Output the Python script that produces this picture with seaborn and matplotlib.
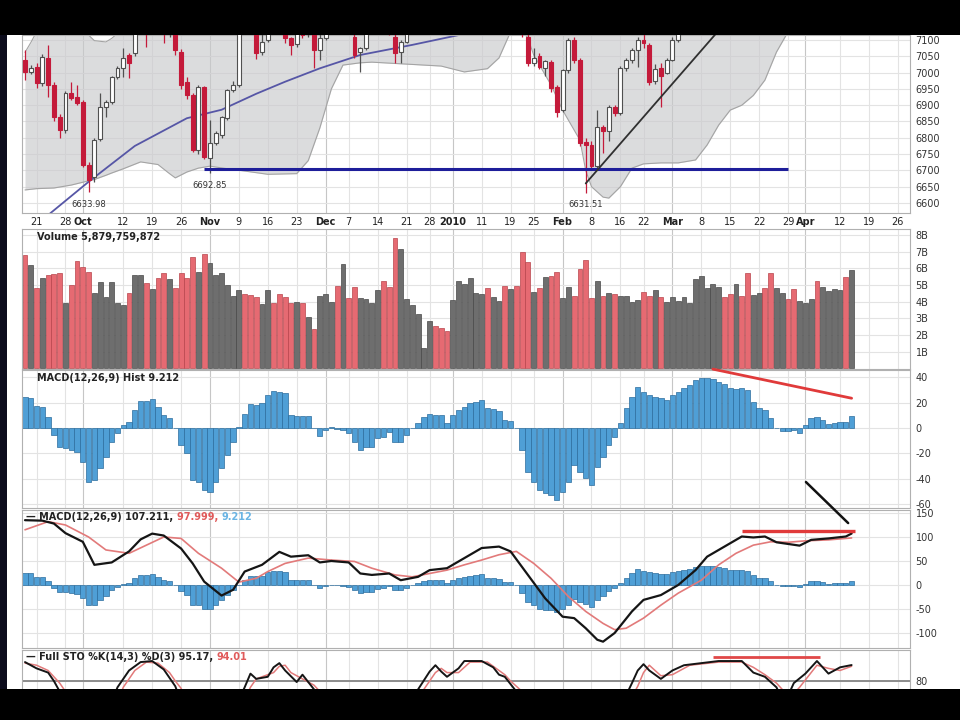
import numpy as np
import pandas as pd
import matplotlib
matplotlib.use("Agg")
import matplotlib.pyplot as plt
import seaborn as sns
from matplotlib.patches import Rectangle, ConnectionPatch

sns.set_theme(style="white")
plt.rcParams["font.family"] = ["DejaVu Sans"]

# ---------------- data ----------------
start_date = "2009-09-17"
holidays = ["2009-11-26", "2009-12-25", "2010-01-01", "2010-01-18", "2010-02-15", "2010-04-02"]

# R = close below prior close (red), G = close above prior close (black/gray)
down_days = ("RGRGRRRGRR" "RRGGGGGGRG" "GRGRRGRRRR" "GRGGGGGGRR" "RGGRRRRGRG"
             "RGGGRGRRGG" "GGRRRGGGGG" "GRRRGGGGGG" "RGGRGRRRGR" "GRRGGRRRRG"
             "RGRGGGGRRG" "RGGGGGGGGG" "GRRGRRGGRR" "GGRRGGGRGG" "GGRG")

opens = [7038, 7003, 7018, 6967, 7044, 6962, 6865, 6824, 6936, 6926,
         6910, 6717, 6680, 6795, 6895, 6910, 6987, 7013, 7054, 7060,
         7150, 7190, 7170, 7200, 7160, 7130, 7135, 7064, 6972, 6931,
         6763, 6955, 6737, 6783, 6808, 6860, 6947, 6962, 7165, 7135,
         7120, 7064, 7100, 7155, 7140, 7130, 7105, 7088, 7125, 7118,
         7120, 7070, 7105, 7135, 7150, 7130, 7165, 7110, 7064, 7074,
         7125, 7140, 7160, 7140, 7110, 7064, 7095, 7125, 7145, 7155,
         7160, 7170, 7155, 7150, 7150, 7195, 7210, 7220, 7235, 7245,
         7260, 7230, 7255, 7275, 7210, 7245, 7180, 7110, 7030, 7050,
         7015, 7034, 6957, 6885, 7008, 7100, 7039, 6788, 6778, 6712,
         6834, 6820, 6895, 6875, 7013, 7040, 7070, 7100, 7085, 6975,
         7015, 7000, 7040, 7100, 7130, 7145, 7160, 7180, 7195, 7210,
         7225, 7240, 7228, 7215, 7240, 7225, 7210, 7230, 7250, 7240,
         7225, 7250, 7270, 7258, 7248, 7270, 7290, 7310, 7300, 7320,
         7335, 7350, 7365, 7350]
highs = [7070, 7022, 7030, 7056, 7085, 6970, 6872, 6945, 6972, 6962,
         6915, 6725, 6800, 6936, 6915, 6990, 7020, 7074, 7060, 7165,
         7200, 7200, 7210, 7205, 7170, 7150, 7145, 7072, 6985, 6938,
         6962, 6960, 6855, 6822, 6868, 6950, 6975, 7150, 7175, 7150,
         7128, 7120, 7160, 7165, 7150, 7135, 7110, 7130, 7135, 7150,
         7130, 7120, 7140, 7160, 7155, 7170, 7170, 7118, 7080, 7135,
         7150, 7165, 7165, 7145, 7118, 7100, 7135, 7150, 7160, 7165,
         7175, 7172, 7160, 7155, 7200, 7215, 7225, 7240, 7250, 7265,
         7262, 7260, 7280, 7280, 7250, 7250, 7190, 7130, 7075, 7060,
         7040, 7040, 6962, 7010, 7105, 7110, 7045, 6800, 6790, 6885,
         6840, 6900, 6900, 7020, 7045, 7075, 7110, 7120, 7090, 7025,
         7030, 7045, 7110, 7135, 7150, 7165, 7185, 7200, 7215, 7230,
         7245, 7245, 7232, 7245, 7245, 7230, 7235, 7255, 7255, 7245,
         7255, 7275, 7275, 7262, 7275, 7295, 7315, 7315, 7325, 7340,
         7355, 7370, 7370, 7385]
lows = [6978, 6995, 6952, 6960, 6925, 6850, 6798, 6815, 6915, 6900,
        6710, 6634, 6665, 6790, 6865, 6905, 6980, 6988, 6982, 7050,
        7140, 7080, 7150, 7130, 7090, 7110, 7055, 6950, 6920, 6755,
        6750, 6735, 6693, 6778, 6800, 6855, 6940, 6955, 7130, 7120,
        7043, 7054, 7095, 7130, 7125, 7090, 7054, 7080, 7105, 7110,
        7013, 7040, 7100, 7125, 7120, 7125, 7125, 7045, 7003, 7070,
        7120, 7135, 7125, 7115, 7028, 7028, 7090, 7120, 7135, 7150,
        7155, 7150, 7140, 7130, 7145, 7185, 7200, 7210, 7225, 7235,
        7220, 7225, 7250, 7200, 7200, 7170, 7110, 7020, 7020, 7010,
        6990, 6940, 6865, 6880, 7000, 7030, 6775, 6632, 6700, 6705,
        6752, 6790, 6868, 6870, 7005, 7030, 7018, 7075, 6962, 6965,
        6895, 6995, 7035, 7095, 7126, 7140, 7155, 7175, 7190, 7205,
        7220, 7220, 7205, 7210, 7215, 7200, 7205, 7225, 7230, 7215,
        7220, 7245, 7250, 7240, 7245, 7265, 7285, 7290, 7295, 7315,
        7330, 7345, 7340, 7345]
closes = [7003, 7015, 6967, 7049, 6962, 6865, 6824, 6936, 6921, 6906,
          6717, 6670, 6793, 6895, 6910, 6987, 7013, 7044, 7030, 7150,
          7190, 7170, 7200, 7160, 7130, 7140, 7068, 6962, 6931, 6763,
          6955, 6740, 6783, 6814, 6865, 6947, 6962, 7140, 7135, 7125,
          7059, 7095, 7150, 7140, 7132, 7105, 7085, 7125, 7115, 7140,
          7069, 7105, 7135, 7150, 7130, 7165, 7135, 7054, 7074, 7125,
          7140, 7160, 7140, 7125, 7059, 7095, 7125, 7145, 7155, 7160,
          7170, 7155, 7150, 7135, 7195, 7210, 7220, 7235, 7245, 7260,
          7230, 7255, 7275, 7210, 7245, 7180, 7120, 7028, 7045, 7018,
          7035, 6952, 6880, 7008, 7100, 7039, 6783, 6778, 6712, 6834,
          6820, 6895, 6875, 7013, 7040, 7070, 7100, 7090, 6970, 7010,
          6990, 7040, 7100, 7128, 7145, 7160, 7180, 7195, 7210, 7225,
          7240, 7228, 7215, 7240, 7225, 7210, 7230, 7250, 7240, 7225,
          7250, 7270, 7258, 7248, 7270, 7290, 7310, 7300, 7320, 7335,
          7350, 7365, 7350, 7380]

volume_b = [6.8, 6.2, 4.8, 5.45, 5.6, 5.65, 5.7, 3.9, 5.0, 6.45,
            6.1, 5.8, 4.5, 5.2, 4.3, 5.2, 3.9, 3.8, 4.55, 5.6,
            5.6, 5.1, 4.75, 5.45, 5.75, 5.35, 4.85, 5.7, 5.45, 6.7,
            5.8, 6.85, 6.35, 5.6, 5.75, 5.0, 4.35, 4.7, 4.45, 4.4,
            4.3, 3.84, 4.7, 3.9, 4.45, 4.3, 3.9, 3.96, 3.9, 3.1,
            2.36, 4.36, 4.46, 4.0, 4.95, 6.25, 4.24, 4.9, 4.24, 4.16,
            3.9, 4.7, 5.24, 4.9, 7.85, 7.15, 4.16, 3.8, 3.24, 1.2,
            2.84, 2.56, 2.4, 2.24, 4.1, 5.26, 5.04, 5.4, 4.5, 4.44,
            4.8, 4.3, 4.04, 4.96, 4.76, 4.96, 6.99, 6.4, 4.56, 4.8,
            5.46, 5.56, 5.8, 4.24, 4.9, 4.36, 5.96, 6.53, 4.24, 5.26,
            4.36, 4.54, 4.46, 4.36, 4.36, 4.0, 4.1, 4.6, 4.36, 4.7,
            4.3, 4.0, 4.3, 4.04, 4.3, 3.9, 5.36, 5.56, 4.8, 5.04,
            4.9, 4.3, 4.46, 5.04, 4.36, 5.74, 4.4, 4.54, 4.8, 5.74,
            4.8, 4.5, 4.16, 4.76, 4.04, 3.9, 4.16, 5.26, 4.9, 4.64,
            4.76, 4.7, 5.5, 5.88]

macd_hist = [24.8, 24.0, 17.7, 16.9, 9.0, -5.5, -14.8, -15.5, -17.4, -19.2,
             -26.6, -42.4, -41.0, -31.9, -22.7, -10.8, -4.2, 2.4, 5.0, 14.2,
             21.3, 21.3, 22.7, 16.9, 10.3, 7.6, 0.3, -13.4, -20.0, -41.0,
             -42.4, -49.0, -50.3, -42.4, -31.9, -21.3, -10.8, 0.5, 10.8, 18.7,
             18.2, 19.5, 26.1, 29.2, 28.7, 27.4, 10.3, 9.7, 9.7, 9.7,
             0.3, -6.0, -1.6, 1.0, -1.0, -1.6, -4.2, -10.8, -17.4, -14.8,
             -14.8, -8.2, -6.9, -2.9, -10.8, -10.8, -5.5, 0.3, 3.7, 9.0,
             10.8, 10.3, 10.3, 3.7, 10.3, 14.2, 16.9, 19.5, 20.8, 22.1,
             15.5, 14.8, 13.4, 6.3, 5.5, -0.3, -17.4, -34.5, -42.4, -49.0,
             -51.6, -53.0, -56.9, -50.3, -42.4, -29.2, -34.5, -39.8, -45.0, -30.6,
             -22.7, -13.4, -6.9, 3.7, 15.5, 24.8, 32.7, 28.7, 26.1, 24.8,
             23.4, 22.1, 26.1, 28.7, 31.4, 34.0, 38.0, 39.8, 39.3, 38.7,
             36.6, 34.5, 31.4, 30.8, 31.9, 30.0, 20.8, 15.5, 14.2, 7.6,
             0.3, -2.1, -2.1, -1.6, -4.2, 2.4, 7.6, 9.0, 6.3, 2.9,
             3.7, 5.0, 5.0, 9.212]

macd_days = [0, 3, 5, 7, 10, 12, 15, 18, 20, 22, 24, 27, 29, 31, 34, 36, 38, 41, 44, 46,
             49, 51, 53, 56, 58, 60, 63, 65, 68, 70, 73, 76, 79, 82, 84, 87, 90, 93, 95, 97,
             99, 100, 102, 105, 107, 110, 113, 116, 118, 121, 124, 126, 128, 130, 134, 136,
             139, 142, 143]
macd_vals = [135, 134, 128, 108, 90, 42, 47, 70, 95, 107, 103, 76, 45, 7, -22, -10, 28, 42, 69, 59,
             62, 47, 50, 47, 24, 21, 24, 10, 17, 31, 35, 56, 77, 80, 70, 21, -28, -66, -69, -90,
             -114, -118, -100, -55, -31, -21, 0, 31, 59, 80, 101, 99, 101, 89, 82, 94,
             97, 101, 107.211]
signal_days = [0, 4, 7, 11, 14, 18, 21, 24, 27, 30, 34, 37, 40, 42, 45, 49, 53, 57, 60, 64,
               67, 70, 73, 76, 79, 82, 85, 88, 91, 94, 97, 100, 102, 104, 107, 110, 113, 117,
               120, 123, 126, 129, 132, 135, 139, 143]
signal_vals = [115, 132, 125, 100, 73, 66, 83, 100, 97, 66, 35, 6, 14, 28, 45, 56, 52, 49, 35, 21,
               17, 24, 31, 42, 52, 63, 70, 45, 14, -24, -55, -80, -93, -90, -69, -42, -17, 10,
               42, 66, 83, 90, 89, 92, 94, 97.999]

stoK_days = [0, 2, 4, 5, 6, 9, 12, 15, 16, 18, 20, 22, 24, 25, 26, 29, 33, 36, 38, 39,
             40, 42, 43, 44, 45, 47, 48, 50, 53, 57, 61, 65, 68, 70, 71, 72, 73, 75, 76, 79,
             81, 82, 83, 85, 88, 92, 96, 100, 103, 105, 106, 107, 108, 110, 112, 114, 117, 120,
             124, 126, 128, 130, 131, 132, 133, 135, 137, 139, 141, 143]
stoK_vals = [98, 92, 88, 80, 70, 35, 18, 60, 74, 90, 98, 99, 91, 83, 75, 30, 10, 50, 74, 87,
             82, 84, 93, 97, 90, 79, 86, 72, 45, 40, 30, 45, 72, 89, 95, 89, 84, 92, 99, 99,
             93, 86, 84, 70, 20, 5, 2, 30, 55, 78, 90, 96, 90, 82, 90, 95, 97, 99,
             99, 88, 84, 74, 62, 66, 78, 87, 99, 87, 93, 95.17]
stoD_days = [0, 2, 4, 6, 7, 10, 13, 16, 17, 19, 21, 23, 25, 26, 27, 30, 34, 37, 39, 40,
             41, 43, 44, 45, 46, 48, 49, 50, 51, 54, 58, 62, 66, 69, 71, 72, 73, 75, 77, 80,
             82, 83, 84, 86, 89, 93, 97, 101, 104, 106, 107, 108, 110, 112, 115, 120, 124, 126,
             128, 130, 131, 132, 134, 137, 139, 141, 143]
stoD_vals = [97, 95, 90, 78, 70, 40, 25, 60, 74, 90, 98, 97, 88, 80, 73, 35, 18, 50, 74, 82,
             84, 88, 94, 95, 88, 82, 79, 76, 70, 48, 40, 35, 45, 72, 88, 92, 88, 88, 98, 98,
             90, 86, 80, 70, 25, 8, 4, 30, 55, 75, 88, 95, 85, 86, 95, 98, 98, 93,
             86, 78, 72, 62, 74, 95, 92, 90, 94.01]

ma_days = [0, 4, 11, 19, 28, 34, 40, 45, 51, 58, 67, 75, 85]
ma_vals = [6500, 6563, 6665, 6775, 6860, 6886, 6935, 6972, 7013, 7054, 7085, 7115, 7150]

band_days = [0, 1, 2, 5, 8, 11, 12, 14, 15, 17, 20, 23, 25, 26, 28, 30, 32, 35, 38, 42,
             47, 49, 51, 53, 55, 58, 60, 66, 72, 76, 80, 82, 84, 86, 87, 88, 91, 93, 96, 97,
             98, 100, 101, 103, 105, 107, 110, 113, 116, 118, 120, 122, 124, 126, 128, 130,
             132, 136, 143]
band_lower = [6640, 6642, 6644, 6646, 6655, 6668, 6672, 6685, 6692, 6705, 6726, 6718, 6690, 6677,
              6695, 6707, 6713, 6705, 6698, 6688, 6690, 6730, 6830, 6950, 7023, 7030, 7032,
              7026, 7020, 7002, 7012, 7045, 7125, 7130, 7105, 7054, 6962, 6885, 6793, 6700,
              6650, 6618, 6615, 6650, 6707, 6720, 6723, 6723, 6732, 6778, 6839, 6885, 6900,
              6930, 6977, 7063, 7125, 7180, 7250]
band_upper = [7062, 7092, 7125, 7170, 7160, 7115, 7098, 7094, 7105, 7135, 7300, 7300, 7300, 7300,
              7300, 7300, 7300, 7300, 7300, 7300, 7300, 7300, 7300, 7300, 7300, 7300, 7300,
              7300, 7300, 7300, 7300, 7300, 7300, 7300, 7300, 7300, 7300, 7300, 7300, 7300,
              7300, 7300, 7300, 7300, 7300, 7300, 7300, 7300, 7300, 7300, 7300, 7300, 7300,
              7300, 7300, 7300, 7300, 7400, 7450]

low_days = [11, 32, 97]
low_labels = ["6633.98", "6692.85", "6631.51"]
support_level = 6705

tick_dates = ["2009-09-21", "2009-09-28", "2009-10-01", "2009-10-12", "2009-10-19", "2009-10-26",
              "2009-11-02", "2009-11-09", "2009-11-16", "2009-11-23", "2009-12-01", "2009-12-07",
              "2009-12-14", "2009-12-21", "2009-12-28", "2010-01-04", "2010-01-11", "2010-01-19",
              "2010-01-25", "2010-02-01", "2010-02-08", "2010-02-16", "2010-02-22", "2010-03-01",
              "2010-03-08", "2010-03-15", "2010-03-22", "2010-03-29", "2010-04-01", "2010-04-12",
              "2010-04-19", "2010-04-26"]
tick_labels = ["21", "28", "Oct", "12", "19", "26", "Nov", "9", "16", "23", "Dec", "7",
               "14", "21", "28", "2010", "11", "19", "25", "Feb", "8", "16", "22", "Mar",
               "8", "15", "22", "29", "Apr", "12", "19", "26"]

# ---------------- calendar ----------------
cal = pd.bdate_range(start_date, "2010-05-14")
cal = cal[~cal.isin(pd.to_datetime(holidays))]
tick_pos = [cal.get_loc(pd.Timestamp(d)) for d in tick_dates]
n = len(closes)
idx = np.arange(n)
opens_a, highs_a, lows_a, closes_a = map(np.array, (opens, highs, lows, closes))
down = np.array([c == "R" for c in down_days])

# ---------------- figure ----------------
W, H = 960, 720
L, R = 22, 910
fig = plt.figure(figsize=(9.6, 7.2), dpi=100)
fig.patch.set_facecolor("white")

GRID = "#e3e3e3"
MGRID = "#c6c6c6"


def panel(top, bottom, ylim, yticks, ylabels):
    ax = fig.add_axes([L / W, 1 - bottom / H, (R - L) / W, (bottom - top) / H])
    ax.set_facecolor("white")
    ax.set_xlim(-0.52, 153.1)
    ax.set_ylim(*ylim)
    for s in ax.spines.values():
        s.set_color("#b0b0b0")
        s.set_linewidth(0.8)
    ax.grid(False)
    ax.yaxis.tick_right()
    ax.set_yticks(yticks)
    ax.set_yticklabels(ylabels)
    ax.tick_params(axis="y", length=0, labelsize=7, labelcolor="#333333", pad=4)
    ax.set_xticks(tick_pos)
    ax.tick_params(axis="x", length=0, labelbottom=False)
    for p, lab in zip(tick_pos, tick_labels):
        month = (not lab.isdigit()) or lab == "2010"
        ax.axvline(p, color=MGRID if month else GRID, lw=0.8, zorder=0.5)
    for v in yticks:
        ax.axhline(v, color=GRID, lw=0.8, zorder=0.5)
    ax.set_xlabel("")
    ax.set_ylabel("")
    return ax


def chain(ax, x, y, parts, size=7):
    t = ax.text(x, y, parts[0][0], color=parts[0][1], transform=ax.transAxes,
                fontsize=size, fontweight="bold", va="center", ha="left", zorder=10)
    for s, c in parts[1:]:
        t = ax.annotate(s, xy=(1, 0.5), xycoords=t, va="center", ha="left",
                        color=c, fontsize=size, fontweight="bold", zorder=10)


# ---- price panel ----
yt = np.arange(6600, 7101, 50)
axp = panel(35, 213, (6569.3, 7115.3), yt, [str(v) for v in yt])
axp.fill_between(band_days, band_lower, band_upper, color="#c9cacc", alpha=0.65, lw=0, zorder=1)
axp.plot(band_days, band_lower, color="#a4a4a4", lw=0.8, zorder=1.2)
axp.plot(band_days, band_upper, color="#a4a4a4", lw=0.8, zorder=1.2)
sns.lineplot(x=ma_days, y=ma_vals, ax=axp, color="#5656a6", linewidth=1.3, legend=False, zorder=2)

edge = np.where(down, "#c41a3a", "#505050")
face = np.where(closes_a < opens_a, edge, "white")
axp.vlines(idx, lows_a, highs_a, colors=edge, lw=0.9, zorder=3)
body = np.maximum(np.abs(closes_a - opens_a), 2)
axp.bar(idx, body, bottom=np.minimum(opens_a, closes_a), width=0.68, color=face,
        edgecolor=edge, linewidth=0.8, zorder=4)

for d, lab in zip(low_days, low_labels):
    axp.text(d, lows_a[d] - 38, lab, ha="center", va="center", fontsize=6,
             color="#333333", zorder=6)

axp.hlines(support_level, 31, 132, color="#1e1e9a", lw=2.2, zorder=5)
axp.plot([97, 125], [6660, 7231], color="#303030", lw=1.3, zorder=5)

axp.set_xticklabels(tick_labels)
axp.tick_params(axis="x", labelbottom=True, labelsize=7, pad=3, labelcolor="#222222")
for lbl in axp.get_xticklabels():
    t = lbl.get_text()
    if (not t.isdigit()) or t == "2010":
        lbl.set_fontweight("bold")

# ---- volume panel ----
vt = np.arange(1, 9)
axv = panel(229, 369, (-0.03, 8.36), vt, [f"{v}B" for v in vt])
vface = np.where(down, "#e66a72", "#6e6e6e")
vedge = np.where(down, "#b8444c", "#484848")
axv.bar(idx, volume_b, width=0.84, color=vface, edgecolor=vedge, linewidth=0.5, zorder=2)
chain(axv, 0.017, 0.943, [("Volume 5,879,759,872", "#222222")])

# ---- MACD histogram panel ----
ht = np.arange(-60, 41, 20)
axh = panel(370, 508, (-63.2, 45.8), ht, [str(v) for v in ht])
axh.bar(idx, macd_hist, width=0.92, color="#4f9fd6", edgecolor="#2c6d9d", linewidth=0.5, zorder=2)
chain(axh, 0.017, 0.942, [("MACD(12,26,9) Hist 9.212", "#222222")])
axh.plot([119, 143], [46.5, 23.5], color="#e03a3a", lw=2, clip_on=False, zorder=8)

# ---- MACD panel ----
mt = np.arange(-100, 151, 50)
axm = panel(510, 648, (-131.2, 156.2), mt, [str(v) for v in mt])
axm.bar(idx, macd_hist, width=0.92, color="#4f9fd6", edgecolor="#2c6d9d", linewidth=0.5, zorder=2)
sns.lineplot(x=signal_days, y=signal_vals, ax=axm, color="#e27a7a", linewidth=1.2, legend=False, zorder=3)
sns.lineplot(x=macd_days, y=macd_vals, ax=axm, color="#151515", linewidth=1.6, legend=False, zorder=4)
axm.hlines(112, 124, 143.5, color="#e03a3a", lw=2.4, zorder=6)
chain(axm, 0.005, 0.949, [("\u2014 MACD(12,26,9) 107.211, ", "#222222"),
                          ("97.999, ", "#e05a5a"), ("9.212", "#6ab4e4")])

# ---- Full STO panel ----
axs = panel(650, 700, (61.9, 109.5), [80], ["80"])
axs.axhline(80, color="#8c8c8c", lw=1.4, zorder=1)
sns.lineplot(x=stoD_days, y=stoD_vals, ax=axs, color="#e27a7a", linewidth=1.1, legend=False, zorder=3)
sns.lineplot(x=stoK_days, y=stoK_vals, ax=axs, color="#151515", linewidth=1.4, legend=False, zorder=4)
axs.hlines(103, 119, 137.5, color="#e04848", lw=2, zorder=6)
chain(axs, 0.005, 0.86, [("\u2014 Full STO %K(14,3) %D(3) 95.17, ", "#222222"), ("94.01", "#e05a5a")])

# hand-drawn black stroke crossing MACD panels
con = ConnectionPatch(xyA=(135.1, -42.7), coordsA=axh.transData,
                      xyB=(142.4, 129), coordsB=axm.transData, color="#111111", lw=1.8)
con.set_zorder(9)
fig.add_artist(con)

# screenshot frame
fig.add_artist(Rectangle((0, 1 - 35 / H), 1, 35 / H, transform=fig.transFigure,
                         facecolor="black", edgecolor="none", zorder=20))
fig.add_artist(Rectangle((0, 0), 1, (H - 689) / H, transform=fig.transFigure,
                         facecolor="black", edgecolor="none", zorder=20))
fig.add_artist(Rectangle((0, 0), 7 / W, 1, transform=fig.transFigure,
                         facecolor="#0c0c1c", edgecolor="none", zorder=19))

fig.savefig("out.png", dpi=100, facecolor="white")
